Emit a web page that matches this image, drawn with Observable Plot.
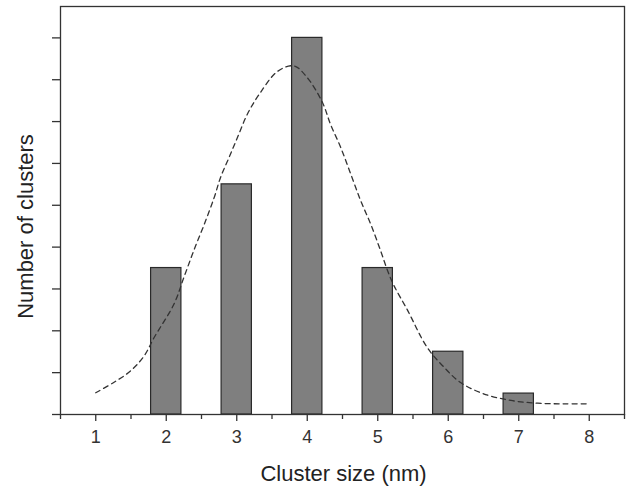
<!DOCTYPE html>
<html>
<head>
<meta charset="utf-8">
<script src="https://cdn.jsdelivr.net/npm/d3@7"></script>
<script src="https://cdn.jsdelivr.net/npm/@observablehq/plot@0.6"></script>
<style>
  html, body { margin: 0; padding: 0; background: #fff; }
  #chart { width: 634px; height: 488px; }
</style>
</head>
<body>
<div id="chart"></div>
<script>
// Bar data (cluster size in nm, number of clusters)
const sizes = [2, 3, 4, 5, 6, 7];
const counts = [7, 11, 18, 7, 3, 1];

// Dashed fitted curve points
const fitX = [1.0, 1.26, 1.5, 1.69, 1.83, 2.11, 2.25, 2.39, 2.54, 2.68, 2.77, 2.89, 3.01, 3.15, 3.32, 3.58, 3.81, 4.0, 4.216, 4.33, 4.475, 4.617, 4.759, 4.90, 5.04, 5.14, 5.23, 5.42, 5.70, 5.94, 6.17, 6.5, 6.89, 7.27, 7.65, 8.0];
const fitY = [1.04, 1.54, 2.1, 2.82, 3.69, 5.28, 6.55, 7.83, 9.10, 10.37, 11.33, 12.28, 13.24, 14.35, 15.31, 16.4, 16.66, 16.1, 14.91, 13.87, 12.76, 11.49, 10.21, 9.10, 7.83, 6.87, 6.16, 5.0, 3.21, 2.26, 1.54, 0.99, 0.67, 0.54, 0.51, 0.51];

// Tick values
const xTicks = [1, 2, 3, 4, 5, 6, 7, 8];
const xMinorTicks = [0.5, 1.5, 2.5, 3.5, 4.5, 5.5, 6.5, 7.5, 8.5];
const yTicks = [0, 2, 4, 6, 8, 10, 12, 14, 16, 18];

const xLabel = "Cluster size (nm)";
const yLabel = "Number of clusters";

const bars = sizes.map((s, i) => ({size: s, count: counts[i]}));
const fit = fitX.map((x, i) => ({x, y: fitY[i]}));
const halfWidth = 0.215;
const ink = "#333";

const chart = Plot.plot({
  width: 634,
  height: 488,
  marginLeft: 60,
  marginRight: 10,
  marginTop: 6,
  marginBottom: 74,
  style: {fontFamily: "'Liberation Sans', Arial, sans-serif", color: ink, background: "#fff"},
  x: {domain: [0.5, 8.5]},
  y: {domain: [0, 19.5]},
  marks: [
    Plot.rectY(bars, {
      x1: d => d.size - halfWidth,
      x2: d => d.size + halfWidth,
      y1: 0,
      y2: "count",
      fill: "#7f7f7f",
      stroke: "#2a2a2a",
      strokeWidth: 1.2
    }),
    Plot.line(fit, {x: "x", y: "y", curve: "catmull-rom", stroke: "#333", strokeWidth: 1.3, strokeDasharray: "5,4"}),
    Plot.frame({stroke: "#333", strokeWidth: 1.3}),
    Plot.axisX({ticks: xTicks, tickSize: 7, tickPadding: 9, fontSize: 18, stroke: ink, strokeWidth: 1.3, label: null}),
    Plot.axisX({ticks: xMinorTicks, tickSize: 5, tickFormat: () => "", stroke: ink, strokeWidth: 1.3, label: null}),
    Plot.axisY({ticks: yTicks, tickSize: 8, tickFormat: () => "", stroke: ink, strokeWidth: 1.3, label: null}),
    Plot.text([xLabel], {frameAnchor: "bottom", lineAnchor: "bottom", text: d => d, dy: 66, dx: 1, fontSize: 22, fill: "#222"}),
    Plot.text([yLabel], {frameAnchor: "left", textAnchor: "middle", lineAnchor: "middle", text: d => d, rotate: -90, dx: -35, dy: 16, fontSize: 22, fill: "#222"})
  ]
});
document.getElementById("chart").appendChild(chart);
</script>
</body>
</html>
